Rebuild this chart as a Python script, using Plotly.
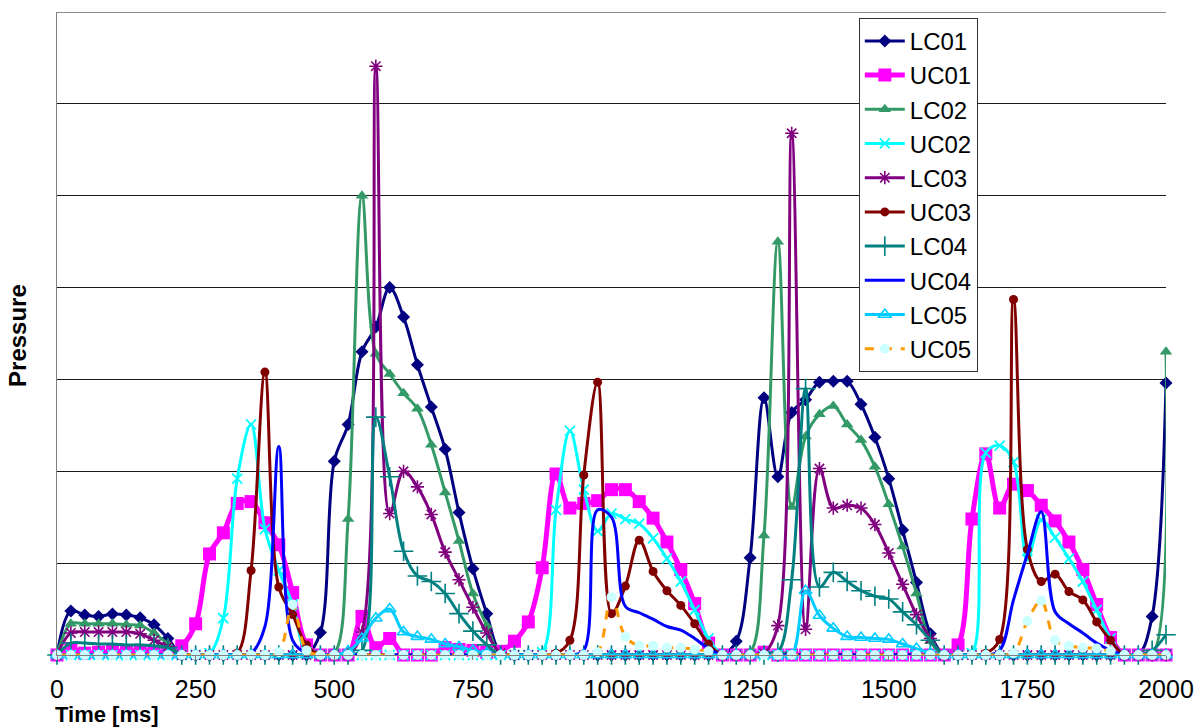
import plotly.graph_objects as go

# Sample times (ms), one reading every 25 ms
time_ms = list(range(0, 2001, 25))

LC01 = [0, 0.48, 0.435, 0.42, 0.445, 0.435, 0.405, 0.33, 0.18, 0,
        0, 0, 0, 0, 0, 0, 0, 0, 0, 0.245,
        2.11, 2.51, 3.30, 3.57, 4.00, 3.68, 3.16, 2.70, 2.24, 1.55,
        0.94, 0.45, 0.02, 0, 0, 0, 0, 0, 0, 0,
        0, 0, 0, 0, 0, 0, 0, 0, 0, 0.15,
        1.06, 2.80, 1.94, 2.64, 2.78, 2.97, 2.98, 2.98, 2.73, 2.37,
        1.92, 1.36, 0.79, 0.23, 0, 0, 0, 0, 0, 0,
        0, 0, 0, 0, 0, 0, 0, 0, 0, 0.42,
        2.96]

UC01 = [0, 0.07, 0.02, 0.03, 0.04, 0.04, 0.05, 0.04, 0.03, 0.10,
        0.34, 1.10, 1.33, 1.65, 1.67, 1.44, 1.20, 0.68, 0.11, 0,
        0, 0, 0.42, 0.08, 0.18, 0, 0, 0, 0.08, 0.06,
        0.05, 0.03, 0.04, 0.15, 0.36, 0.95, 1.97, 1.60, 1.65, 1.68,
        1.80, 1.80, 1.67, 1.49, 1.23, 0.93, 0.56, 0.13, 0, 0,
        0, 0.03, 0, 0, 0, 0, 0, 0, 0, 0,
        0, 0, 0, 0, 0, 0.11, 1.48, 2.19, 1.60, 1.86,
        1.79, 1.63, 1.46, 1.23, 0.93, 0.55, 0.19, 0, 0, 0,
        0]

LC02 = [0, 0.34, 0.34, 0.34, 0.34, 0.33, 0.32, 0.24, 0.12, 0,
        0, 0, 0, 0, 0, 0, 0, 0, 0, 0,
        0.02, 1.48, 5.00, 3.28, 3.06, 2.85, 2.68, 2.29, 1.77, 1.24,
        0.67, 0.32, 0, 0, 0, 0, 0, 0, 0, 0,
        0, 0, 0, 0, 0, 0, 0, 0, 0, 0,
        0.03, 1.30, 4.50, 1.61, 2.38, 2.62, 2.71, 2.51, 2.34, 2.05,
        1.64, 1.18, 0.67, 0.15, 0, 0, 0, 0, 0, 0,
        0, 0, 0, 0, 0, 0, 0, 0, 0, 0,
        3.30]

UC02 = [0, 0, 0, 0, 0, 0, 0, 0, 0, 0,
        0, 0.02, 0.40, 1.92, 2.51, 1.37, 0.92, 0.55, 0.03, 0,
        0, 0, 0, 0, 0, 0, 0, 0, 0, 0,
        0, 0, 0, 0, 0, 0.03, 1.58, 2.44, 1.80, 1.35,
        1.54, 1.48, 1.43, 1.27, 1.05, 0.80, 0.49, 0.18, 0, 0,
        0, 0, 0, 0, 0, 0, 0, 0, 0, 0,
        0, 0, 0, 0, 0, 0, 0.02, 2.20, 2.28, 2.10,
        1.04, 1.47, 1.28, 1.05, 0.80, 0.49, 0.18, 0, 0, 0,
        0]

LC03 = [0, 0.24, 0.25, 0.25, 0.25, 0.25, 0.23, 0.16, 0.09, 0,
        0, 0, 0, 0, 0, 0, 0, 0, 0, 0,
        0, 0, 0.25, 6.41, 1.54, 2.00, 1.83, 1.53, 1.12, 0.82,
        0.52, 0.24, 0.02, 0, 0, 0, 0, 0, 0, 0,
        0, 0, 0, 0, 0, 0, 0, 0, 0, 0,
        0, 0.02, 0.32, 5.68, 0.28, 2.03, 1.60, 1.63, 1.60, 1.42,
        1.11, 0.77, 0.44, 0.18, 0, 0, 0, 0, 0, 0,
        0, 0, 0, 0, 0, 0, 0, 0, 0, 0,
        0]

UC03 = [0, 0, 0, 0, 0, 0, 0, 0, 0, 0,
        0, 0, 0, 0.02, 0.92, 3.08, 0.74, 0.44, 0.11, 0,
        0, 0, 0, 0, 0, 0, 0, 0, 0, 0,
        0, 0, 0, 0, 0, 0, 0.02, 0.16, 1.96, 2.97,
        0.45, 0.75, 1.25, 0.91, 0.70, 0.54, 0.34, 0.12, 0, 0,
        0, 0, 0, 0, 0, 0, 0, 0, 0, 0,
        0, 0, 0, 0, 0, 0, 0, 0.02, 0.17, 3.87,
        1.15, 0.80, 0.88, 0.69, 0.60, 0.36, 0.16, 0, 0, 0,
        0]

LC04 = [0, 0.13, 0.13, 0.12, 0.12, 0.11, 0.11, 0.10, 0.08, 0,
        0, 0, 0, 0, 0, 0, 0, 0, 0, 0,
        0, 0, 0.05, 2.59, 1.94, 1.13, 0.86, 0.80, 0.67, 0.45,
        0.26, 0.11, 0, 0, 0, 0, 0, 0, 0, 0,
        0, 0, 0, 0, 0, 0, 0, 0, 0, 0,
        0, 0, 0.03, 0.82, 2.90, 0.74, 0.90, 0.80, 0.70, 0.64,
        0.61, 0.47, 0.33, 0.16, 0, 0, 0, 0, 0, 0,
        0, 0, 0, 0, 0, 0, 0, 0, 0, 0.05,
        0.22]

UC04 = [0, 0, 0, 0, 0, 0, 0, 0, 0, 0,
        0, 0, 0, 0, 0.02, 0.31, 2.27, 0.16, 0.02, 0,
        0, 0, 0, 0, 0, 0, 0, 0, 0, 0,
        0, 0, 0, 0, 0, 0, 0, 0, 0.05, 1.58,
        1.50, 0.53, 0.46, 0.39, 0.31, 0.27, 0.18, 0.07, 0, 0,
        0, 0, 0, 0, 0, 0, 0, 0, 0, 0,
        0, 0, 0, 0, 0, 0, 0, 0, 0.05, 0.60,
        1.10, 1.56, 0.47, 0.34, 0.24, 0.13, 0.05, 0, 0, 0,
        0]

LC05 = [0, 0, 0, 0, 0, 0, 0, 0, 0, 0,
        0, 0, 0, 0, 0, 0, 0, 0, 0, 0,
        0, 0.04, 0.18, 0.40, 0.50, 0.25, 0.20, 0.17, 0.12, 0.09,
        0.05, 0.02, 0, 0, 0, 0, 0, 0, 0, 0,
        0, 0, 0, 0, 0, 0, 0, 0, 0, 0,
        0, 0, 0, 0, 0.70, 0.43, 0.29, 0.20, 0.19, 0.18,
        0.17, 0.12, 0.07, 0.02, 0, 0, 0, 0, 0, 0,
        0, 0, 0, 0, 0, 0, 0, 0, 0, 0,
        0]

UC05 = [0, 0, 0, 0, 0, 0, 0, 0, 0, 0,
        0, 0, 0, 0, 0, 0, 0.03, 0.55, 0.05, 0,
        0, 0, 0, 0, 0, 0, 0, 0, 0, 0,
        0, 0, 0, 0, 0, 0, 0, 0, 0, 0.03,
        0.63, 0.20, 0.10, 0.10, 0.08, 0.08, 0.06, 0.04, 0, 0,
        0, 0, 0, 0, 0, 0, 0, 0, 0, 0,
        0, 0, 0, 0, 0, 0, 0, 0, 0, 0.02,
        0.37, 0.59, 0.16, 0.10, 0.08, 0.07, 0.04, 0, 0, 0,
        0]

x_ticks = [0, 250, 500, 750, 1000, 1250, 1500, 1750, 2000]

FONT = "Arial, Liberation Sans, sans-serif"

# name, values, line colour, line width, dash, marker spec (None = line only)
series = [
    ("LC01", LC01, "#000080", 3, "solid", dict(symbol="diamond", size=10, color="#000080")),
    ("UC01", UC01, "#FF00FF", 5, "solid", dict(symbol="square", size=13, color="#FF00FF")),
    ("LC02", LC02, "#339966", 3, "solid", dict(symbol="triangle-up", size=11, color="#339966")),
    ("UC02", UC02, "#00FFFF", 3, "solid",
     dict(symbol="x-thin-open", size=10, color="#00FFFF", line=dict(color="#00FFFF", width=1.8))),
    ("LC03", LC03, "#800080", 3, "solid",
     dict(symbol="asterisk-open", size=11, color="#800080", line=dict(color="#800080", width=1.6))),
    ("UC03", UC03, "#800000", 3, "solid", dict(symbol="circle", size=9, color="#800000")),
    ("LC04", LC04, "#008080", 3, "solid",
     dict(symbol="cross-thin-open", size=14, color="#008080", line=dict(color="#008080", width=1.6))),
    ("UC04", UC04, "#0000FF", 3, "solid", None),
    ("LC05", LC05, "#00CCFF", 3, "solid",
     dict(symbol="triangle-up-open", size=11, color="#00CCFF", line=dict(color="#00CCFF", width=1.6))),
    ("UC05", UC05, "#FF9900", 3, "dash", dict(symbol="circle", size=10, color="#CCFFFF")),
]

fig = go.Figure()
for name, vals, color, width, dash, marker in series:
    trace = dict(
        x=time_ms, y=vals, name=name,
        line=dict(color=color, width=width, dash=dash, shape="spline", smoothing=1.0),
        cliponaxis=False,
    )
    if marker is None:
        trace["mode"] = "lines"
    else:
        trace["mode"] = "lines+markers"
        trace["marker"] = marker
    fig.add_trace(go.Scatter(**trace))

fig.update_layout(
    width=1200, height=727,
    margin=dict(l=57, r=34, t=12, b=72),
    paper_bgcolor="white", plot_bgcolor="white",
    font=dict(family=FONT, size=24, color="black"),
    showlegend=True,
    legend=dict(
        x=0.723, y=0.991, xanchor="left", yanchor="top",
        bgcolor="white", bordercolor="#333333", borderwidth=1,
        font=dict(family=FONT, size=24, color="black"),
        itemwidth=40, tracegroupgap=0,
    ),
    xaxis=dict(
        range=[0, 2000], tickmode="array", tickvals=x_ticks,
        ticktext=[str(v) for v in x_ticks],
        showgrid=False, zeroline=False, automargin=False,
        showline=True, linecolor="#808080", linewidth=1,
        ticks="outside", ticklen=4, tickcolor="#808080",
        ticklabelstandoff=8,
        tickfont=dict(family=FONT, size=25, color="black"),
    ),
    yaxis=dict(
        range=[0, 7], dtick=1, tick0=0, automargin=False,
        showgrid=True, gridcolor="#1a1a1a", gridwidth=1,
        zeroline=False, showticklabels=False,
        showline=True, linecolor="#808080", linewidth=1,
    ),
    shapes=[
        # top gridline at the upper limit of the pressure axis
        dict(type="line", xref="paper", yref="y", x0=0, x1=1, y0=7, y1=7,
             line=dict(color="#1a1a1a", width=1), layer="below"),
    ],
    annotations=[
        dict(text="<b>Pressure</b>", textangle=-90, xref="paper", yref="paper",
             x=-0.0352, y=0.4977, xanchor="center", yanchor="middle",
             showarrow=False, font=dict(family=FONT, size=24, color="black")),
        dict(text="<b>Time [ms]</b>", xref="paper", yref="paper",
             x=0.0455, y=-0.0925, xanchor="center", yanchor="middle",
             showarrow=False, font=dict(family=FONT, size=22, color="black")),
    ],
)

fig.write_html("out.html")
